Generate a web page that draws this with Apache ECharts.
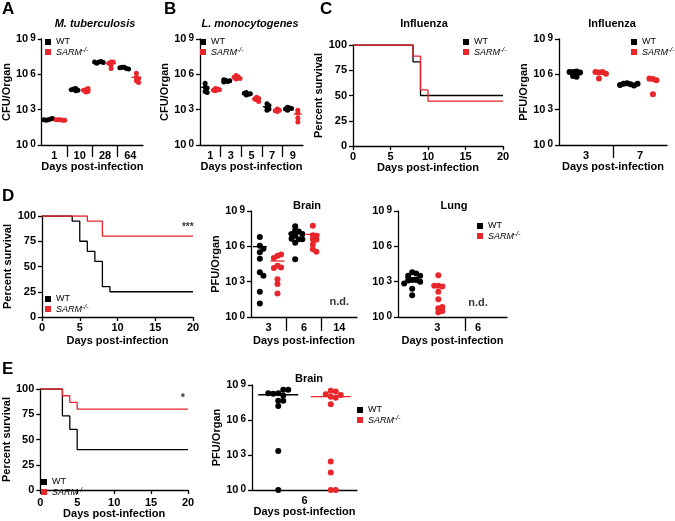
<!DOCTYPE html>
<html><head><meta charset="utf-8">
<script src="https://cdn.jsdelivr.net/npm/echarts@6/dist/echarts.min.js"></script>
<style>html,body{margin:0;padding:0;background:#fff}#c{width:675px;height:521px}</style>
</head><body><div id="c"></div><script>
// ===== DATA (log10 titres; survival %) =====
// A  M. tuberculosis CFU
const mtbDays = ['1','10','28','64'];
const mtbWT = [[2.15,2.2,2.1,2.25,2.15],[4.75,4.6,4.8,4.7,4.65],[7.05,7.1,6.95,7.0,7.05],[6.6,6.5,6.6,6.45,6.55]];
const mtbKO = [[2.15,2.1,2.15,2.1,2.15],[4.7,4.55,4.8,4.5,4.65],[7.05,7.05,6.95,6.8,6.5],[6.1,5.75,5.65,5.45,5.3]];
// B  L. monocytogenes CFU
const lmDays = ['1','3','5','7','9'];
const lmWT = [[5.25,4.9,4.85,4.55,4.45],[5.5,5.4,5.55,5.45,5.35],[4.45,4.3,4.25,4.4,4.35],[3.5,3.35,3.2,3.05,2.95],[3.2,3.15,3.05,2.95,3.1]];
const lmKO = [[4.8,4.75,4.65,4.7,4.6],[5.9,5.8,5.75,5.6,5.65],[4.05,3.95,3.85,3.7,3.9],[3.05,2.95,2.9,2.85],[2.95,2.7,2.3,1.95]];
// C  Influenza survival
const fluDaysWT = [0, 8, 9, 20];      const fluSurvWT = [100, 83.3, 50, 50];
const fluDaysKO = [0, 8, 9, 10, 20];  const fluSurvKO = [100, 88.9, 55.6, 44.4, 44.4];
// C  Influenza PFU
const fluTiterDays = ['3','7'];
const fluWT = [[6.2,6.25,6.2,6.15,5.85,5.8],[5.25,5.15,5.2,5.05,5.1,5.2]];
const fluKO = [[6.15,6.2,6.2,6.05,5.65],[5.6,5.5,5.65,4.3]];
// D  survival
const dDaysWT = [0,4,5,6,7,8,9,20];  const dSurvWT = [100,95,75,65,55,30,25,25];
const dDaysKO = [0,6,8,20];          const dSurvKO = [100,95,80,80];
// D  brain PFU
const dBrainDays = ['3','6','14'];
const dBrainWT = [[6.8,6.05,5.8,5.5,4.95,3.8,3.5,2.15,1.15],[7.7,7.35,7.25,7.05,7.05,6.9,6.6,6.65,6.6,6.3,4.9],[]];
const dBrainKO = [[5.2,5.3,5.0,4.35,4.2,4.15,3.2,2.8,2.0],[7.75,6.6,6.9,6.95,6.55,6.15,5.75,5.55],[]];
// D  lung PFU
const dLungDays = ['3','6'];
const dLungWT = [[3.8,3.7,3.5,3.5,3.15,3.15,3.1,3.0,2.85,2.4,1.85],[]];
const dLungKO = [[3.55,2.65,2.6,2.65,2.15,1.5,0.75,0.85,0.5,0.4],[]];
// E  survival
const eDaysWT = [0,3,4,5,20];  const eSurvWT = [100,73.3,60,40,40];
const eDaysKO = [0,3,4,5,20];  const eSurvKO = [100,93.3,86.7,80,80];
// E  brain PFU
const eBrainDays = ['6'];
const eBrainWT = [[8.3,8.1,8.25,8.6,8.6,8.3,7.65,7.65,7.2,3.35,0]];
const eBrainKO = [[8.5,8.45,8.2,8.15,8.0,7.9,7.35,2.45,1.5,0,0]];

// ===== STYLE / LAYOUT =====
const RED = '#e8262b', BLACK = '#000000';
const FONT = '"Liberation Sans", Arial, Helvetica, sans-serif';
const grids = [
  {left:40,  top:39,  width:103, height:106}, // 0 A
  {left:200, top:39,  width:103, height:106}, // 1 B
  {left:353, top:45,  width:150, height:101}, // 2 C survival
  {left:559, top:39,  width:108, height:106}, // 3 C titres
  {left:42,  top:216, width:151, height:101}, // 4 D survival
  {left:251, top:211, width:106, height:106}, // 5 D brain
  {left:398, top:211, width:109, height:106}, // 6 D lung
  {left:38,  top:389, width:150, height:101}, // 7 E survival
  {left:252, top:385, width:105, height:105}  // 8 E brain
];
const axLine = {show:true, onZero:false, lineStyle:{color:'#000', width:1.3}};
const tickLbl = {color:'#000', fontWeight:'bold', fontSize:11, fontFamily:FONT};
const nameStyle = {color:'#000', fontWeight:'bold', fontSize:11, fontFamily:FONT};
const supRich = {
  b:{fontSize:11, fontWeight:'bold', fontFamily:FONT, color:'#000', lineHeight:11, padding:[7,0,0,0], verticalAlign:'bottom'},
  s:{fontSize:10, fontWeight:'bold', fontFamily:FONT, color:'#000', lineHeight:10, padding:[0,0,0,2], verticalAlign:'top'}
};

function swarm(values, pxY, step) {
  const placed = [], out = [];
  values.forEach(v => {
    const y = v * pxY;
    let dx = 0;
    for (let k = 0; k < 30; k++) {
      const c = k === 0 ? 0 : (k % 2 ? 1 : -1) * Math.ceil(k / 2) * step;
      if (placed.every(p => Math.hypot(p.x - c, p.y - y) >= step)) { dx = c; break; }
    }
    placed.push({x:dx, y}); out.push(dx);
  });
  return out;
}
function meanSeries(gi, data, color, half) {
  return {type:'custom', xAxisIndex:gi, yAxisIndex:gi, data, silent:true, z:4,
    renderItem(params, api) {
      const p = api.coord([api.value(0), api.value(1)]);
      return {type:'line', shape:{x1:p[0]-half, y1:p[1], x2:p[0]+half, y2:p[1]},
              style:{stroke:color, lineWidth:1.3}};
    }};
}
const xAxes = [], yAxes = [], series = [];

function scatterPanel(gi, o) {
  const g = grids[gi];
  const pxX = g.width / o.xMax, pxY = g.height / 9;
  xAxes.push({type:'value', gridIndex:gi, min:0, max:o.xMax,
    axisLine:axLine,
    axisTick:{show:o.seps.length>0, customValues:o.seps, length:o.sepLen, lineStyle:{color:'#000', width:1.3}},
    axisLabel:Object.assign({customValues:o.labelPos, margin:o.lblMargin || 5,
      formatter:v => o.cats[o.labelPos.findIndex(p => Math.abs(p - v) < 1e-6)] || ''}, tickLbl),
    splitLine:{show:false},
    name:'Days post-infection', nameLocation:'middle', nameGap:o.xNameGap, nameTextStyle:nameStyle});
  yAxes.push({type:'value', gridIndex:gi, min:0, max:9, interval:3,
    axisLine:axLine, axisTick:{show:true, length:4, lineStyle:{color:'#000', width:1.3}},
    axisLabel:{margin:6, formatter:v => '{b|10}{s|' + v + '}', rich:supRich},
    splitLine:{show:false},
    name:o.yName || '', nameLocation:'middle', nameGap:o.yNameGap, nameTextStyle:nameStyle});
  [[o.wt, 'WT', BLACK, -o.off], [o.ko, 'SARM-/-', RED, o.off]].forEach(([groups, name, color, off]) => {
    const pts = [], means = [];
    groups.forEach((vals, i) => {
      if (!vals.length) return;
      const cx = i + 0.5 + off;
      const dx = swarm(vals, pxY, o.step);
      vals.forEach((v, k) => pts.push([cx + dx[k] / pxX, v]));
      means.push([cx, Math.log10(vals.reduce((s, v) => s + Math.pow(10, v), 0) / vals.length)]);
    });
    series.push({type:'scatter', name, xAxisIndex:gi, yAxisIndex:gi, data:pts,
      symbolSize:o.size, itemStyle:{color, opacity:1}, z:3, silent:true});
    series.push(meanSeries(gi, means, color, o.half));
  });
}
function survPanel(gi, o) {
  xAxes.push({type:'value', gridIndex:gi, min:0, max:20, interval:5,
    axisLine:axLine, axisTick:{show:true, length:4, lineStyle:{color:'#000', width:1.3}},
    axisLabel:Object.assign({margin:o.lblMargin || 5}, tickLbl), splitLine:{show:false},
    name:'Days post-infection', nameLocation:'middle', nameGap:o.xNameGap, nameTextStyle:nameStyle});
  yAxes.push({type:'value', gridIndex:gi, min:0, max:100, interval:25,
    axisLine:axLine, axisTick:{show:true, length:4, lineStyle:{color:'#000', width:1.3}},
    axisLabel:Object.assign({margin:6}, tickLbl), splitLine:{show:false},
    name:'Percent survival', nameLocation:'middle', nameGap:o.yNameGap, nameTextStyle:nameStyle});
  [[o.tW, o.pW, 'WT', BLACK], [o.tK, o.pK, 'SARM-/-', RED]].forEach(([t, p, name, color]) => {
    series.push({type:'line', name, xAxisIndex:gi, yAxisIndex:gi, step:'end', showSymbol:false,
      data:t.map((d, i) => [d, p[i]]), lineStyle:{color, width:1.3}, itemStyle:{color}, silent:true, z:3});
  });
}
function textMark(gi, pos, text, size) {
  series.push({type:'scatter', xAxisIndex:gi, yAxisIndex:gi, data:[pos], symbolSize:0, silent:true,
    label:{show:true, position:'inside', formatter:text, color:'#000', fontWeight:'bold', fontSize:size, fontFamily:FONT}});
}

// A
scatterPanel(0, {cats:mtbDays, wt:mtbWT, ko:mtbKO, xMax:4, seps:[1,2,3], labelPos:[0.5,1.5,2.5,3.5],
  sepLen:12, off:0.24, step:2.2, size:5, half:5, xNameGap:16, yName:'CFU/Organ', yNameGap:26});
// B
scatterPanel(1, {cats:lmDays, wt:lmWT, ko:lmKO, xMax:5, seps:[1,2,3,4], labelPos:[0.5,1.5,2.5,3.5,4.5],
  sepLen:12, off:0.25, step:2, size:5, half:4, xNameGap:16, yName:'CFU/Organ', yNameGap:23});
// C survival
survPanel(2, {tW:fluDaysWT, pW:fluSurvWT, tK:fluDaysKO, pK:fluSurvKO, xNameGap:13, yNameGap:20});
// C titres
scatterPanel(3, {cats:fluTiterDays, wt:fluWT, ko:fluKO, xMax:2, seps:[1], labelPos:[0.5,1.5],
  sepLen:13, off:0.24, step:3.5, size:6, half:6, xNameGap:15, yName:'PFU/Organ', yNameGap:25});
// D survival
survPanel(4, {tW:dDaysWT, pW:dSurvWT, tK:dDaysKO, pK:dSurvKO, xNameGap:18, yNameGap:27});
// D brain
scatterPanel(5, {cats:dBrainDays, wt:dBrainWT, ko:dBrainKO, xMax:3, seps:[1,2], labelPos:[0.5,1.5,2.5],
  sepLen:14, off:0.25, step:3.6, size:6, half:7, xNameGap:18, yName:'PFU/Organ', yNameGap:23});
// D lung
scatterPanel(6, {cats:dLungDays, wt:dLungWT, ko:dLungKO, xMax:2, seps:[1.23], labelPos:[0.72,1.47],
  sepLen:14, off:0.24, step:4, size:6, half:7, xNameGap:18, yName:'', yNameGap:20});
// E survival
survPanel(7, {tW:eDaysWT, pW:eSurvWT, tK:eDaysKO, pK:eSurvKO, xNameGap:17, yNameGap:22, lblMargin:7});
// E brain
scatterPanel(8, {cats:eBrainDays, wt:eBrainWT, ko:eBrainKO, xMax:1, seps:[], labelPos:[0.5],
  sepLen:0, off:0.25, step:5, size:6, half:20, xNameGap:16, yName:'PFU/Organ', yNameGap:26});

// annotations
textMark(4, [19.3, 89], '***', 10);
textMark(7, [19.3, 91], '*', 11);
textMark(5, [2.5, 1.3], 'n.d.', 11);
textMark(6, [1.47, 1.2], 'n.d.', 11);

const legendRich = {
  n:{fontSize:9, fontFamily:FONT, color:'#000', lineHeight:10},
  i:{fontSize:9, fontFamily:FONT, fontStyle:'italic', color:'#000', lineHeight:10},
  s:{fontSize:7, fontFamily:FONT, fontStyle:'italic', color:'#000', lineHeight:7, verticalAlign:'top'}
};
function legend(left, top) {
  return {left, top, orient:'vertical', icon:'rect', itemWidth:6, itemHeight:6, itemGap:0, padding:0,
    selectedMode:false, data:['WT','SARM-/-'],
    formatter:n => n === 'WT' ? '{n|WT}' : '{i|SARM}{s|-/-}',
    textStyle:{fontSize:9, lineHeight:10, rich:legendRich}};
}
const legends = [legend(45,37), legend(200,37), legend(463,37), legend(631,37),
  legend(45,294), legend(477,221), legend(41,477), legend(357,405)];

function txt(text, x, y, font, align) {
  return {type:'text', x, y, silent:true,
    style:{text, font, fill:'#000', textAlign:align||'center', textVerticalAlign:'middle', align:align||'center', verticalAlign:'middle'}};
}
const B17 = 'bold 17px ' + FONT, B11 = 'bold 11px ' + FONT, BI11 = 'italic bold 11px ' + FONT;
const graphics = [
  txt('A', 2, 9, B17, 'left'), txt('B', 164, 9, B17, 'left'), txt('C', 320, 9, B17, 'left'),
  txt('D', 2, 196, B17, 'left'), txt('E', 2, 369, B17, 'left'),
  txt('M. tuberculosis', 95, 24, BI11), txt('L. monocytogenes', 250, 24, BI11),
  txt('Influenza', 424, 24, B11), txt('Influenza', 612, 24, B11),
  txt('Brain', 307, 206, B11), txt('Lung', 454, 206, B11), txt('Brain', 309, 379, B11)
];

const chart = echarts.init(document.getElementById('c'), null, {renderer:'canvas'});
chart.setOption({
  animation:false, backgroundColor:'#fff',
  grid:grids.map(g => Object.assign({containLabel:false}, g)),
  xAxis:xAxes, yAxis:yAxes, series, legend:legends, graphic:graphics
});
</script></body></html>
